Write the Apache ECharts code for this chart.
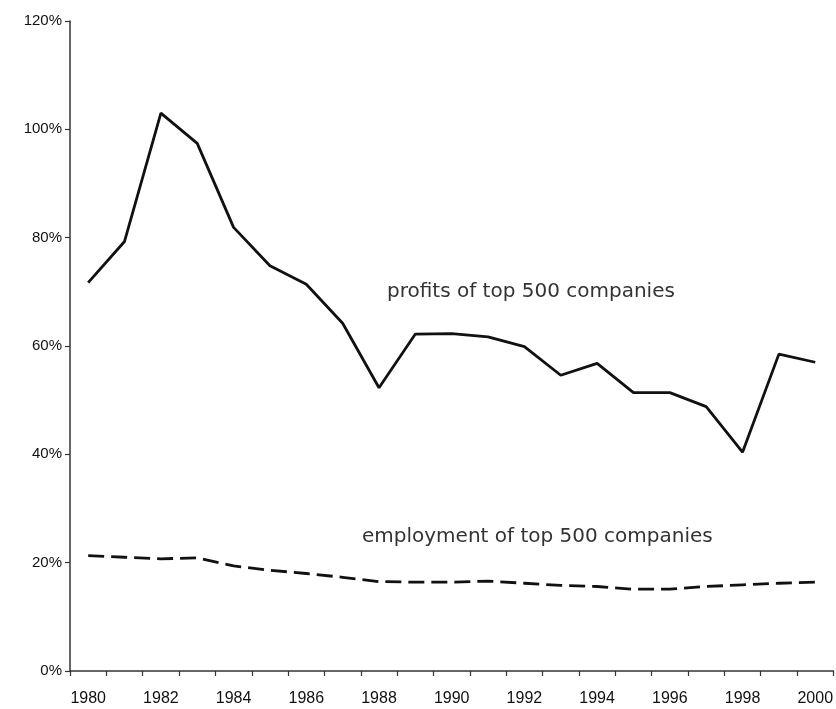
<!DOCTYPE html>
<html>
<head>
<meta charset="utf-8">
<script src="https://cdn.jsdelivr.net/npm/echarts@6/dist/echarts.min.js"></script>
<style>
  html, body { margin: 0; padding: 0; background: #fff; }
  #chart { width: 836px; height: 709px; }
</style>
</head>
<body>
<div id="chart"></div>
<script>
const years = ['1980','1981','1982','1983','1984','1985','1986','1987','1988','1989','1990',
               '1991','1992','1993','1994','1995','1996','1997','1998','1999','2000'];
const profits = [71.7, 79.3, 103.0, 97.4, 81.9, 74.8, 71.4, 64.2, 52.3, 62.2, 62.3,
                 61.7, 59.9, 54.6, 56.8, 51.4, 51.4, 48.8, 40.4, 58.5, 57.0];
const employment = [21.3, 21.0, 20.7, 20.9, 19.4, 18.6, 18.0, 17.3, 16.5, 16.4, 16.4,
                    16.6, 16.2, 15.8, 15.6, 15.1, 15.1, 15.6, 15.9, 16.2, 16.4];
const yTicks = [0, 20, 40, 60, 80, 100, 120];
const profitsLabel = 'profits of top 500 companies';
const employmentLabel = 'employment of top 500 companies';

const chart = echarts.init(document.getElementById('chart'), null, { renderer: 'canvas' });
const axisColor = '#333';
const labelFont = "'Liberation Sans', Arial, sans-serif";
const textFont = "'DejaVu Sans', Verdana, sans-serif";

chart.setOption({
  animation: false,
  backgroundColor: '#fff',
  grid: { left: 70, right: 1, top: 21, bottom: 38, containLabel: false },
  xAxis: {
    type: 'category',
    data: years,
    boundaryGap: true,
    axisLine: { lineStyle: { color: axisColor, width: 1.5 } },
    axisTick: { show: true, interval: 0, length: 5, lineStyle: { color: axisColor, width: 1.2 } },
    axisLabel: { interval: 1, color: '#111', fontFamily: labelFont, fontSize: 16, margin: 20 },
    splitLine: { show: false }
  },
  yAxis: {
    type: 'value',
    min: yTicks[0],
    max: yTicks[yTicks.length - 1],
    interval: 20,
    axisLine: { show: true, lineStyle: { color: axisColor, width: 1.5 } },
    axisTick: { show: true, length: 5, lineStyle: { color: axisColor, width: 1.2 } },
    axisLabel: { formatter: '{value}%', color: '#111', fontFamily: labelFont, fontSize: 15, margin: 8 },
    splitLine: { show: false }
  },
  series: [
    {
      name: profitsLabel,
      type: 'line',
      data: profits,
      symbol: 'none',
      lineStyle: { color: '#111', width: 2.8, type: 'solid' }
    },
    {
      name: employmentLabel,
      type: 'line',
      data: employment,
      symbol: 'none',
      lineStyle: { color: '#111', width: 2.8, type: [16, 7] }
    }
  ],
  graphic: [
    {
      type: 'text', left: 387, top: 282,
      style: { text: profitsLabel, font: "20px " + textFont, fill: '#333' }
    },
    {
      type: 'text', left: 362, top: 527,
      style: { text: employmentLabel, font: "20px " + textFont, fill: '#333' }
    }
  ]
});
</script>
</body>
</html>
